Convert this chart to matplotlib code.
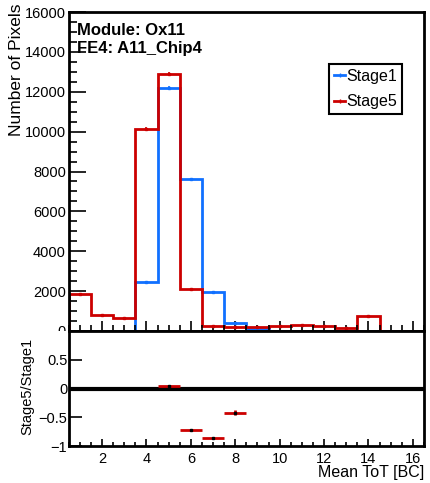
import numpy as np
import matplotlib.pyplot as plt
from matplotlib.lines import Line2D
from matplotlib.patches import Rectangle
from matplotlib.ticker import MultipleLocator

plt.rcParams['font.family'] = ['Liberation Sans', 'DejaVu Sans']

# bin edges 0.5 .. 16.5, one bin per integer ToT
edges = np.arange(0.5, 17.0, 1.0)
centers = 0.5 * (edges[:-1] + edges[1:])

stage1 = [0, 0, 0, 2450, 12175, 7600, 1950, 380, 90, 0, 0, 0, 0, 0, 0, 0]
stage5 = [1850, 800, 630, 10150, 12900, 2100, 270, 220, 200, 250, 300, 260, 175, 740, 0, 0]

# (Stage5 - Stage1) / Stage1 where it is shown
ratio_x = [5, 6, 7, 8]
ratio_y = [0.052, -0.73, -0.865, -0.42]
ratio_err = [0.01, 0.012, 0.02, 0.045]

blue = '#1070ff'
red = '#cc0000'

W, H = 430, 483
fig = plt.figure(figsize=(W / 100, H / 100), dpi=100)

x0, x1 = 68.7, 424
ax = fig.add_axes([x0 / W, 1 - 331 / H, (x1 - x0) / W, (331 - 12) / H])
axr = fig.add_axes([x0 / W, 1 - 446 / H, (x1 - x0) / W, (446 - 331) / H], zorder=2)

s1 = np.array(stage1, float)
s5 = np.array(stage5, float)
ax.stairs(s1, edges, color=blue, lw=2)
ax.stairs(s5, edges, color=red, lw=2)
m1 = s1 > 0
m5 = s5 > 0
ax.errorbar(centers[m1], s1[m1], yerr=np.sqrt(s1[m1]), fmt='s', ms=1.5, color=blue, elinewidth=1.2, capsize=0)
ax.errorbar(centers[m5], s5[m5], yerr=np.sqrt(s5[m5]), fmt='s', ms=1.5, color=red, elinewidth=1.2, capsize=0)

ax.set_xlim(0.5, 16.5)
ax.set_ylim(0, 16000)
ax.set_yticks(np.arange(0, 16001, 2000))
ax.yaxis.set_minor_locator(MultipleLocator(500))
ax.xaxis.set_major_locator(MultipleLocator(2))
ax.xaxis.set_minor_locator(MultipleLocator(0.5))
ax.tick_params(axis='x', which='both', direction='in', labelbottom=False)
ax.tick_params(axis='x', which='major', length=7, width=1.2)
ax.tick_params(axis='x', which='minor', length=4, width=1.2)
ax.tick_params(axis='y', which='major', direction='in', length=12, width=1.2, labelsize=10.5, pad=2)
ax.tick_params(axis='y', which='minor', direction='in', length=6, width=1.2)
for sp in ax.spines.values():
    sp.set_linewidth(2)

handles = [Line2D([], [], color=blue, lw=2, marker='|', ms=3),
           Line2D([], [], color=red, lw=2, marker='|', ms=3)]
leg = ax.legend(handles, ['Stage1', 'Stage5'], loc='upper left', bbox_to_anchor=(0.733, 0.837),
                fontsize=11.5, handlelength=0.7, handletextpad=0.1, borderpad=0.3,
                borderaxespad=0, labelspacing=0.65, fancybox=False, framealpha=1,
                edgecolor='black', handleheight=0.7)
leg.get_frame().set_linewidth(1.5)

# white band so the lower pad hides the bottom half of the top "0" label
fig.add_artist(Rectangle((0, 0), 1, 1 - 331 / H, transform=fig.transFigure,
                         facecolor='white', edgecolor='none', zorder=1))

axr.axhline(0, color='black', lw=3)
axr.errorbar(ratio_x, ratio_y, xerr=0.5, yerr=ratio_err, fmt='none', ecolor=red, elinewidth=2)
axr.plot(ratio_x, ratio_y, 's', color='black', ms=1.8)
axr.set_xlim(0.5, 16.5)
axr.set_ylim(-1, 1)
axr.set_yticks([-1, -0.5, 0, 0.5])
axr.set_yticklabels(['\u22121', '\u22120.5', '0', '0.5'])
axr.xaxis.set_major_locator(MultipleLocator(2))
axr.xaxis.set_minor_locator(MultipleLocator(0.5))
axr.tick_params(axis='x', which='major', direction='in', length=5, width=1.2, labelsize=10.5, pad=4)
axr.tick_params(axis='x', which='minor', direction='in', length=3, width=1.2)
axr.tick_params(axis='y', direction='in', length=9, width=1.2, labelsize=10.5, pad=1)
for sp in axr.spines.values():
    sp.set_linewidth(2)

fig.text(77 / W, 1 - 35 / H, 'Module: Ox11', fontsize=12, fontweight='bold', va='baseline')
fig.text(77 / W, 1 - 53 / H, 'FE4: A11_Chip4', fontsize=12, fontweight='bold', va='baseline')
fig.text(17 / W, 1 - 3 / H, 'Number of Pixels', rotation=90, fontsize=12.5, ha='center', va='top')
fig.text(27 / W, 1 - 386 / H, 'Stage5/Stage1', rotation=90, fontsize=10.5, ha='center', va='center')
fig.text(424 / W, 1 - 477 / H, 'Mean ToT [BC]', fontsize=11.5, ha='right', va='baseline')

fig.savefig('out.png', dpi=100)
